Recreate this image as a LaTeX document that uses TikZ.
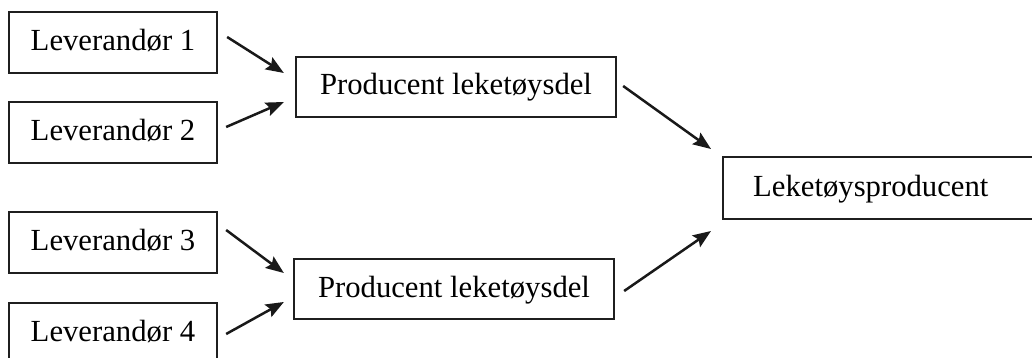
\documentclass[tikz,border=0pt]{standalone}
\usepackage{fontspec}
\setmainfont{Liberation Serif}
\usetikzlibrary{calc,arrows.meta}
\begin{document}
\begin{tikzpicture}[x=1pt,y=-1pt,
  box/.style={draw=black!88, line width=2.3pt, rectangle, inner sep=0pt,
    font=\fontsize{30.7}{36}\selectfont, text height=22pt, text depth=6pt},
  levbox/.style={box, minimum width=208pt, minimum height=61pt},
  prodbox/.style={box, minimum width=320pt, minimum height=60pt},
  arr/.style={draw=black!90, line width=2.5pt,
    -{Stealth[length=18pt,width=14pt,inset=3pt]}}]
\useasboundingbox (0,0) rectangle (1032,358);
\clip (0,0) rectangle (1032,358);
\fill[white] (0,0) rectangle (1032,358);
\node[levbox] (l1) at (113,42.5) {Leverandør 1};
\node[levbox] (l2) at (113,132.5) {Leverandør 2};
\node[levbox] (l3) at (113,242.5) {Leverandør 3};
\node[levbox] (l4) at (113,333.5) {Leverandør 4};
\node[prodbox] (p1) at (456,87) {Producent leketøysdel};
\node[prodbox] (p2) at (454,289) {Producent leketøysdel};
\node[box, anchor=west, minimum height=62pt, inner xsep=30pt, text width=262pt, align=left] (r) at (722,188) {Leketøysproducent};
\draw[arr] ($(l1.east)+(9,-5.5)$) -- ($(p1.west)+(-11,-14)$);
\draw[arr] ($(l2.east)+(8,-5.5)$) -- ($(p1.west)+(-11,15)$);
\draw[arr] ($(l3.east)+(8,-12.5)$) -- ($(p2.west)+(-9,-16)$);
\draw[arr] ($(l4.east)+(8,0.5)$) -- ($(p2.west)+(-9,13)$);
\draw[arr] ($(p1.east)+(6,-1)$) -- ($(r.west)+(-11,-39)$);
\draw[arr] ($(p2.east)+(9,2)$) -- ($(r.west)+(-11,43)$);
\end{tikzpicture}
\end{document}
